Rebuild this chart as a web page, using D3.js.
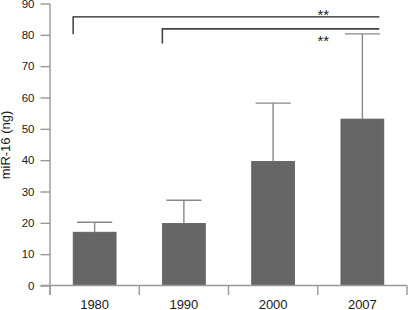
<!DOCTYPE html>
<html>
<head>
<meta charset="utf-8">
<script src="https://cdn.jsdelivr.net/npm/d3@7"></script>
<style>
  body { margin: 0; background: #fff; }
  text { font-family: "Liberation Sans", Arial, sans-serif; fill: #1a1a1a; }
</style>
</head>
<body>
<div id="chart"></div>
<script>
// data
const years = ["1980", "1990", "2000", "2007"]
const means = [17.0, 19.8, 39.6, 53.1]
const errTops = [20.2, 27.2, 58.2, 80.3]
const yTicks = [0, 10, 20, 30, 40, 50, 60, 70, 80, 90]
// significance brackets: from / to category, line level, end of the left drop, star level
const brFrom = ["1980", "1990"]
const brTo = ["2007", "2007"]
const brLevel = [85.7, 81.9]
const brDrop = [80.2, 77.2]
const brStar = [84.6, 76.3]
const brText = ["**", "**"]

const W = 408, H = 310
const svg = d3.select('#chart').append('svg')
  .attr('width', W).attr('height', H)

const y = d3.scaleLinear().domain([0, 90]).range([285.5, 3.5])
const xOuter = d3.scaleBand().domain(years).range([50, 407]).padding(0)
const x = d3.scaleBand().domain(years).range([50, 407])
  .paddingInner(0.52).paddingOuter(0.26)

const axisCol = '#999'
const errCol = '#888'

// bars
svg.selectAll('rect.bar')
  .data(years)
  .enter()
  .append('rect')
  .attr('class', 'bar')
  .attr('x', d => x(d))
  .attr('width', x.bandwidth())
  .attr('y', (d, i) => y(means[i]))
  .attr('height', (d, i) => y(0) - y(means[i]))
  .attr('fill', '#666')
  .attr('stroke', '#5a5a5a')
  .attr('stroke-width', 0.8)

// error bars (upper only)
const capW = x.bandwidth() * 0.82
years.forEach((d, i) => {
  const cx = x(d) + x.bandwidth() / 2
  svg.append('line')
    .attr('x1', cx).attr('x2', cx)
    .attr('y1', y(means[i])).attr('y2', y(errTops[i]))
    .attr('stroke', errCol).attr('stroke-width', 1.4)
  svg.append('line')
    .attr('x1', cx - capW / 2).attr('x2', cx + capW / 2)
    .attr('y1', y(errTops[i])).attr('y2', y(errTops[i]))
    .attr('stroke', errCol).attr('stroke-width', 1.4)
})

// y axis
const yAxis = d3.axisLeft(y).tickValues(yTicks).tickSize(9.5).tickPadding(6)
const gy = svg.append('g').attr('transform', 'translate(50,0)').call(yAxis)
gy.select('.domain').remove()
gy.selectAll('.tick line').attr('stroke', axisCol).attr('stroke-width', 1.4)
gy.selectAll('.tick text').attr('font-size', 11.5).attr('fill', '#1a1a1a')
  .style('font-family', '"Liberation Sans", Arial, sans-serif')
svg.append('line')
  .attr('x1', 50).attr('x2', 50)
  .attr('y1', y(90)).attr('y2', y(0) + 9.5)
  .attr('stroke', axisCol).attr('stroke-width', 1.4)

// x axis: line and boundary ticks
svg.append('line')
  .attr('x1', 40.5).attr('x2', xOuter.range()[1])
  .attr('y1', y(0)).attr('y2', y(0))
  .attr('stroke', axisCol).attr('stroke-width', 1.4)
const bounds = years.map(d => xOuter(d)).concat([xOuter.range()[1]])
svg.selectAll('line.xtick')
  .data(bounds)
  .enter()
  .append('line')
  .attr('class', 'xtick')
  .attr('x1', d => d).attr('x2', d => d)
  .attr('y1', y(0)).attr('y2', y(0) + 9.5)
  .attr('stroke', axisCol).attr('stroke-width', 1.4)
svg.selectAll('text.xlab')
  .data(years)
  .enter()
  .append('text')
  .attr('class', 'xlab')
  .attr('x', d => xOuter(d) + xOuter.bandwidth() / 2)
  .attr('y', 309.3)
  .attr('text-anchor', 'middle')
  .attr('font-size', 13)
  .text(d => d)

// y title
svg.append('text')
  .attr('transform', 'translate(10,145) rotate(-90)')
  .attr('text-anchor', 'middle')
  .attr('font-size', 13)
  .text('miR-16 (ng)')

// brackets
brFrom.forEach((f, i) => {
  const x0 = x(f) + x.bandwidth() / 2 - 21.5
  const x1 = x(brTo[i]) + x.bandwidth() / 2 + 17
  svg.append('path')
    .attr('d', `M${x0},${y(brDrop[i])}V${y(brLevel[i])}H${x1}`)
    .attr('fill', 'none')
    .attr('stroke', i === 0 ? '#222' : '#444')
    .attr('stroke-width', i === 0 ? 1.3 : 1.6)
  svg.append('text')
    .attr('x', x1 - 56)
    .attr('y', y(brStar[i]))
    .attr('text-anchor', 'middle')
    .attr('font-size', 15)
    .attr('fill', '#444')
    .text(brText[i])
})
</script>
</body>
</html>
